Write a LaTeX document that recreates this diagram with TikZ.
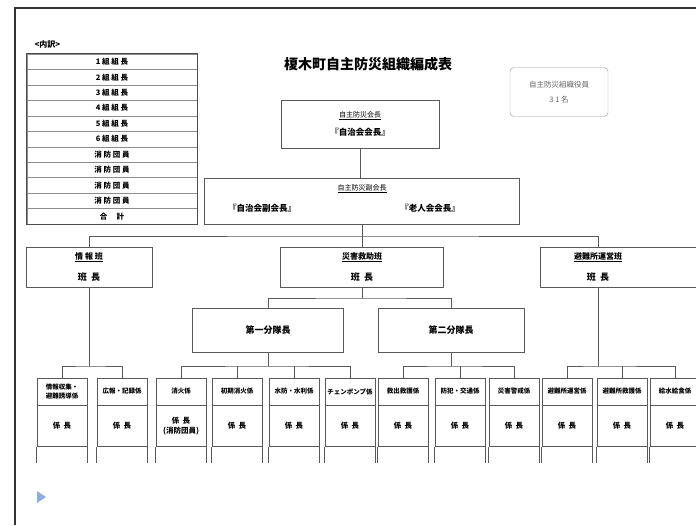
\documentclass[tikz,border=0pt]{standalone}
\usepackage{fontspec}
\setmainfont{Noto Sans CJK JP}
\usetikzlibrary{positioning}

\tikzset{
  conn/.style={draw=black!65,line width=0.6pt},
  frame/.style={draw=black!65,line width=0.6pt,inner sep=0pt,align=center},
  tblrow/.style={draw=black!45,line width=0.4pt,minimum width=170,minimum height=15.45,inner sep=0pt,font=\bfseries\fontsize{7.5}{8}\selectfont},
  teambox/.style={frame,minimum height=40,font=\bfseries\fontsize{8}{9}\selectfont},
  subbox/.style={frame,minimum height=44,font=\bfseries\fontsize{9}{10}\selectfont},
  unithead/.style={frame,minimum width=50,minimum height=27,font=\bfseries\fontsize{6.5}{8.5}\selectfont},
  unitrole/.style={frame,minimum width=50,minimum height=41,font=\bfseries\fontsize{7.5}{9.5}\selectfont},
  boldname/.style={font=\bfseries\fontsize{8.5}{9}\selectfont}
}

\begin{document}
\begin{tikzpicture}[x=1pt,y=-1pt,font=\fontsize{7}{8}\selectfont]
\useasboundingbox (0,0) rectangle (696,525);
\fill[white] (0,0) rectangle (696,525);
% outer frame
\draw[line width=1.6pt,black!80] (15,525) -- (15,8) -- (696,8);

% breakdown table
\node[anchor=west,font=\bfseries\fontsize{8}{9}\selectfont] (tblhead) at (31,44) {<内訳>};
\foreach \i/\t in {1/1 組 組 長,2/2 組 組 長,3/3 組 組 長,4/4 組 組 長,5/5 組 組 長,6/6 組 組 長,
                   7/消 防 団 員,8/消 防 団 員,9/消 防 団 員,10/消 防 団 員,11/合 \quad 計}
  \node[tblrow] (row\i) at (112,{46.3+\i*15.45}) {\t};
\draw[line width=1pt,black!70] (row1.north west) rectangle (row11.south east);

% title and member count
\node[font=\bfseries\fontsize{14}{16}\selectfont] (title) at (368,64) {榎木町自主防災組織編成表};
\node[draw=black!40,rounded corners=4pt,minimum width=98,minimum height=49,align=center,
      text=black!60,font=\fontsize{7.5}{15}\selectfont] (members) at (559,92) {自主防災組織役員\\3 1 名};

% heads
\node[frame,minimum width=158,minimum height=48] (chair) at (360,124)
  {\underline{自主防災会長}\\[7pt]{\bfseries\fontsize{8.5}{9}\selectfont 『自治会会長』}};
\node[frame,minimum width=315,minimum height=46] (vice) at (362,201) {};
\node[below=3pt of vice.north] (vicettl) {\underline{自主防災副会長}};
\node[boldname] (vice1) at (262,208) {『自治会副会長』};
\node[boldname] (vice2) at (430,208) {『老人会会長』};

% teams
\node[teambox,minimum width=126] (info) at (89,267) {\underline{情 報 班}\\[10pt]{\fontsize{9}{10}\selectfont 班 \ 長}};
\node[teambox,minimum width=163] (rescue) at (362,267) {\underline{災害救助班}\\[10pt]{\fontsize{9}{10}\selectfont 班 \ 長}};
\node[teambox,minimum width=158] (evac) at (619,267) {};
\node[align=center,font=\bfseries\fontsize{8}{9}\selectfont] (evactxt) at (598,267) {\underline{避難所運営班}\\[10pt]{\fontsize{9}{10}\selectfont 班 \ 長}};

\node[subbox,minimum width=151] (div1) at (268,330) {第一分隊長};
\node[subbox,minimum width=146] (div2) at (451,330) {第二分隊長};

% units
\foreach \n/\x/\h/\r in {
   u1/62/{情報収集・\\避難誘導係}/係 \ 長,
   u2/122/広報・記録係/係 \ 長,
   u3/181/消火係/{係 \ 長\\(消防団員)},
   u4/237/初期消火係/係 \ 長,
   u5/294/水防・水利係/係 \ 長,
   u6/350/チェンポンプ係/係 \ 長,
   u7/403/救出救護係/係 \ 長,
   u8/460/防犯・交通係/係 \ 長,
   u9/514/災害警戒係/係 \ 長,
   u10/567/避難所運営係/係 \ 長,
   u11/622/避難所救護係/係 \ 長,
   u12/675/給水給食係/係 \ 長}
{
  \node[unithead] (\n) at (\x,391.5) {\h};
  \node[unitrole,below=0pt of \n] (r\n) {\r};
  \draw[conn] (r\n.south west) -- ++(0,16) (r\n.south east) -- ++(0,16);
}

% connectors
\coordinate (busT) at (362,236);
\coordinate (busR) at (362,298);
\coordinate (busI) at (89,366);
\coordinate (busD1) at (268,366);
\coordinate (busD2) at (451,366);
\coordinate (busE) at (598,366);

\draw[conn] (chair.south) -- (chair.south |- vice.north);
\draw[conn] (vice) -- (busT);
\draw[conn] (info.north) |- (busT) -| (evactxt |- evac.north);
\draw[conn] (busT) -- (rescue);

\draw[conn] (rescue) -- (busR);
\draw[conn] (div1.north) |- (busR) -| (div2.north);

\draw[conn] (info) -- (busI);
\draw[conn] (u1.north) |- (busI) -| (u2.north);

\draw[conn] (div1) -- (busD1);
\draw[conn] (u3.north) |- (busD1) -| (u6.north);
\draw[conn] (u4.north) -- (u4.north |- busD1);
\draw[conn] (u5.north) -- (u5.north |- busD1);

\draw[conn] (div2) -- (busD2);
\draw[conn] (u7.north) |- (busD2) -| (u9.north);
\draw[conn] (u8.north) -- (u8.north |- busD2);

\draw[conn] (evactxt |- evac.south) -- (busE);
\draw[conn] (u10.north) |- (busE) -| (u12.north);
\draw[conn] (u11.north) -- (u11.north |- busE);

% page marker
\fill[cyan!50!blue!45] (37,491) -- (46,497) -- (37,503) -- cycle;
\end{tikzpicture}
\end{document}
